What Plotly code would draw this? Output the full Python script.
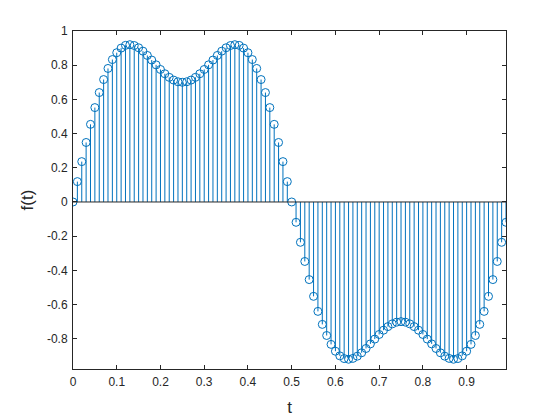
import plotly.graph_objects as go

t = [round(k * 0.01, 2) for k in range(100)]
f = [
    0.000, 0.119, 0.236, 0.348, 0.454, 0.552, 0.640, 0.716, 0.781, 0.833,
    0.873, 0.900, 0.916, 0.920, 0.915, 0.902, 0.882, 0.857, 0.830, 0.802,
    0.775, 0.750, 0.729, 0.713, 0.703, 0.700, 0.703, 0.713, 0.729, 0.750,
    0.775, 0.802, 0.830, 0.857, 0.882, 0.902, 0.915, 0.920, 0.916, 0.900,
    0.873, 0.833, 0.781, 0.716, 0.640, 0.552, 0.454, 0.348, 0.236, 0.119,
    0.000, -0.119, -0.236, -0.348, -0.454, -0.552, -0.640, -0.716, -0.781, -0.833,
    -0.873, -0.900, -0.916, -0.920, -0.915, -0.902, -0.882, -0.857, -0.830, -0.802,
    -0.775, -0.750, -0.729, -0.713, -0.703, -0.700, -0.703, -0.713, -0.729, -0.750,
    -0.775, -0.802, -0.830, -0.857, -0.882, -0.902, -0.915, -0.920, -0.916, -0.900,
    -0.873, -0.833, -0.781, -0.716, -0.640, -0.552, -0.454, -0.348, -0.236, -0.119,
]

x_tick_vals = [0, 0.1, 0.2, 0.3, 0.4, 0.5, 0.6, 0.7, 0.8, 0.9]
x_tick_text = ["0", "0.1", "0.2", "0.3", "0.4", "0.5", "0.6", "0.7", "0.8", "0.9"]
y_tick_vals = [-0.8, -0.6, -0.4, -0.2, 0, 0.2, 0.4, 0.6, 0.8, 1]
y_tick_text = ["-0.8", "-0.6", "-0.4", "-0.2", "0", "0.2", "0.4", "0.6", "0.8", "1"]

BLUE = "#0072BD"
AX = "#262626"

sx, sy = [], []
for ti, fi in zip(t, f):
    sx += [ti, ti, None]
    sy += [0, fi, None]

fig = go.Figure()
fig.add_trace(go.Scatter(x=sx, y=sy, mode="lines",
                         line=dict(color=BLUE, width=1), hoverinfo="skip",
                         showlegend=False))
fig.add_trace(go.Scatter(x=t, y=f, mode="markers",
                         marker=dict(symbol="circle-open", size=8,
                                     color=BLUE, line=dict(width=1, color=BLUE)),
                         showlegend=False))
fig.add_shape(type="line", xref="paper", yref="y", x0=0, x1=1, y0=0, y1=0,
              line=dict(color=AX, width=1))

axis_common = dict(showgrid=False, zeroline=False, showline=True,
                   linecolor=AX, linewidth=1, mirror="ticks",
                   ticks="inside", ticklen=4, tickcolor=AX, tickwidth=1,
                   ticklabelstandoff=2,
                   tickfont=dict(family="Liberation Sans, Arial", size=12, color=AX))

fig.update_xaxes(range=[0, 0.99], tickvals=x_tick_vals, ticktext=x_tick_text,
                 title=dict(text="t", font=dict(family="Liberation Sans, Arial",
                                                size=17, color=AX), standoff=12),
                 **axis_common)
fig.update_yaxes(range=[-0.977, 1], tickvals=y_tick_vals, ticktext=y_tick_text,
                 title=dict(text="f(t)", font=dict(family="Liberation Sans, Arial",
                                                   size=17, color=AX), standoff=8),
                 **axis_common)

fig.update_layout(width=560, height=420,
                  margin=dict(l=65, r=62, t=23, b=59, pad=0),
                  paper_bgcolor="white", plot_bgcolor="white")

fig.write_html("out.html")
